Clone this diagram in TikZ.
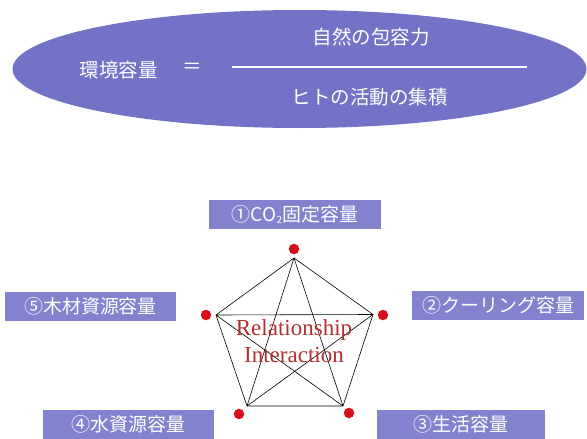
\documentclass[tikz,border=0pt]{standalone}
\usepackage{fontspec}
\setmainfont{Noto Sans CJK JP}
\newfontfamily\relfont{Liberation Serif}
\definecolor{ellblue}{RGB}{114,114,198}
\definecolor{boxblue}{RGB}{130,130,206}
\definecolor{reltext}{RGB}{178,48,48}
\definecolor{dotred}{RGB}{214,16,26}
\begin{document}
\begin{tikzpicture}[x=1pt,y=-1pt,
  hdr/.style={text=white, inner sep=0pt, font=\fontsize{19.5}{22}\selectfont},
  capbox/.style={fill=boxblue, text=white, inner sep=0pt, minimum height=29pt,
    font=\fontsize{19}{22}\selectfont},
  vdot/.style={circle, fill=dotred, inner sep=0pt, minimum size=10.5pt},
  edge/.style={draw=black, line width=0.6pt}]
\useasboundingbox (0,0) rectangle (587,439);
% header ellipse
\fill[ellblue] (299.5,69) ellipse [x radius=287pt, y radius=59pt];
\node[hdr] (lhs) at (118.5,70) {環境容量};
\node[hdr] (eq) at (192,68) {＝};
\coordinate (fl) at (232,67);
\coordinate (fr) at (527,67);
\draw[white, line width=1.3pt] (fl) -- (fr);
\node[hdr] (num) at (371,37) {自然の包容力};
\node[hdr] (den) at (369.5,97) {ヒトの活動の集積};
% capacity boxes
\node[capbox, minimum width=172pt] (b1) at (295,214.5) {①CO\raisebox{-1.5pt}{\fontsize{10}{10}\selectfont 2}固定容量};
\node[capbox, minimum width=172pt] (b2) at (498,305.5) {②クーリング容量};
\node[capbox, minimum width=168pt] (b3) at (461,424.5) {③生活容量};
\node[capbox, minimum width=171pt] (b4) at (128.5,424.5) {④水資源容量};
\node[capbox, minimum width=171pt] (b5) at (90.5,306.5) {⑤木材資源容量};
% pentagon vertices
\coordinate (p1) at (294,258);
\coordinate (p2) at (373,314.5);
\coordinate (p3) at (343,406);
\coordinate (p4) at (247,406);
\coordinate (p5) at (216,315);
\draw[edge] (p1) -- (p2) -- (p3) -- (p4) -- (p5) -- cycle;
\draw[edge] (p1) -- (p3) (p1) -- (p4) (p2) -- (p4) (p2) -- (p5) (p3) -- (p5);
% red dots
\node[vdot] (d1) at (294,249) {};
\node[vdot] (d2) at (383,315) {};
\node[vdot] (d3) at (349,413) {};
\node[vdot] (d4) at (239,414) {};
\node[vdot] (d5) at (206,315) {};
% center text
\node[text=reltext, inner sep=0pt, align=center,
  font=\relfont\fontsize{23}{27}\selectfont] (rel) at (294,341) {Relationship\\Interaction};
\end{tikzpicture}
\end{document}
